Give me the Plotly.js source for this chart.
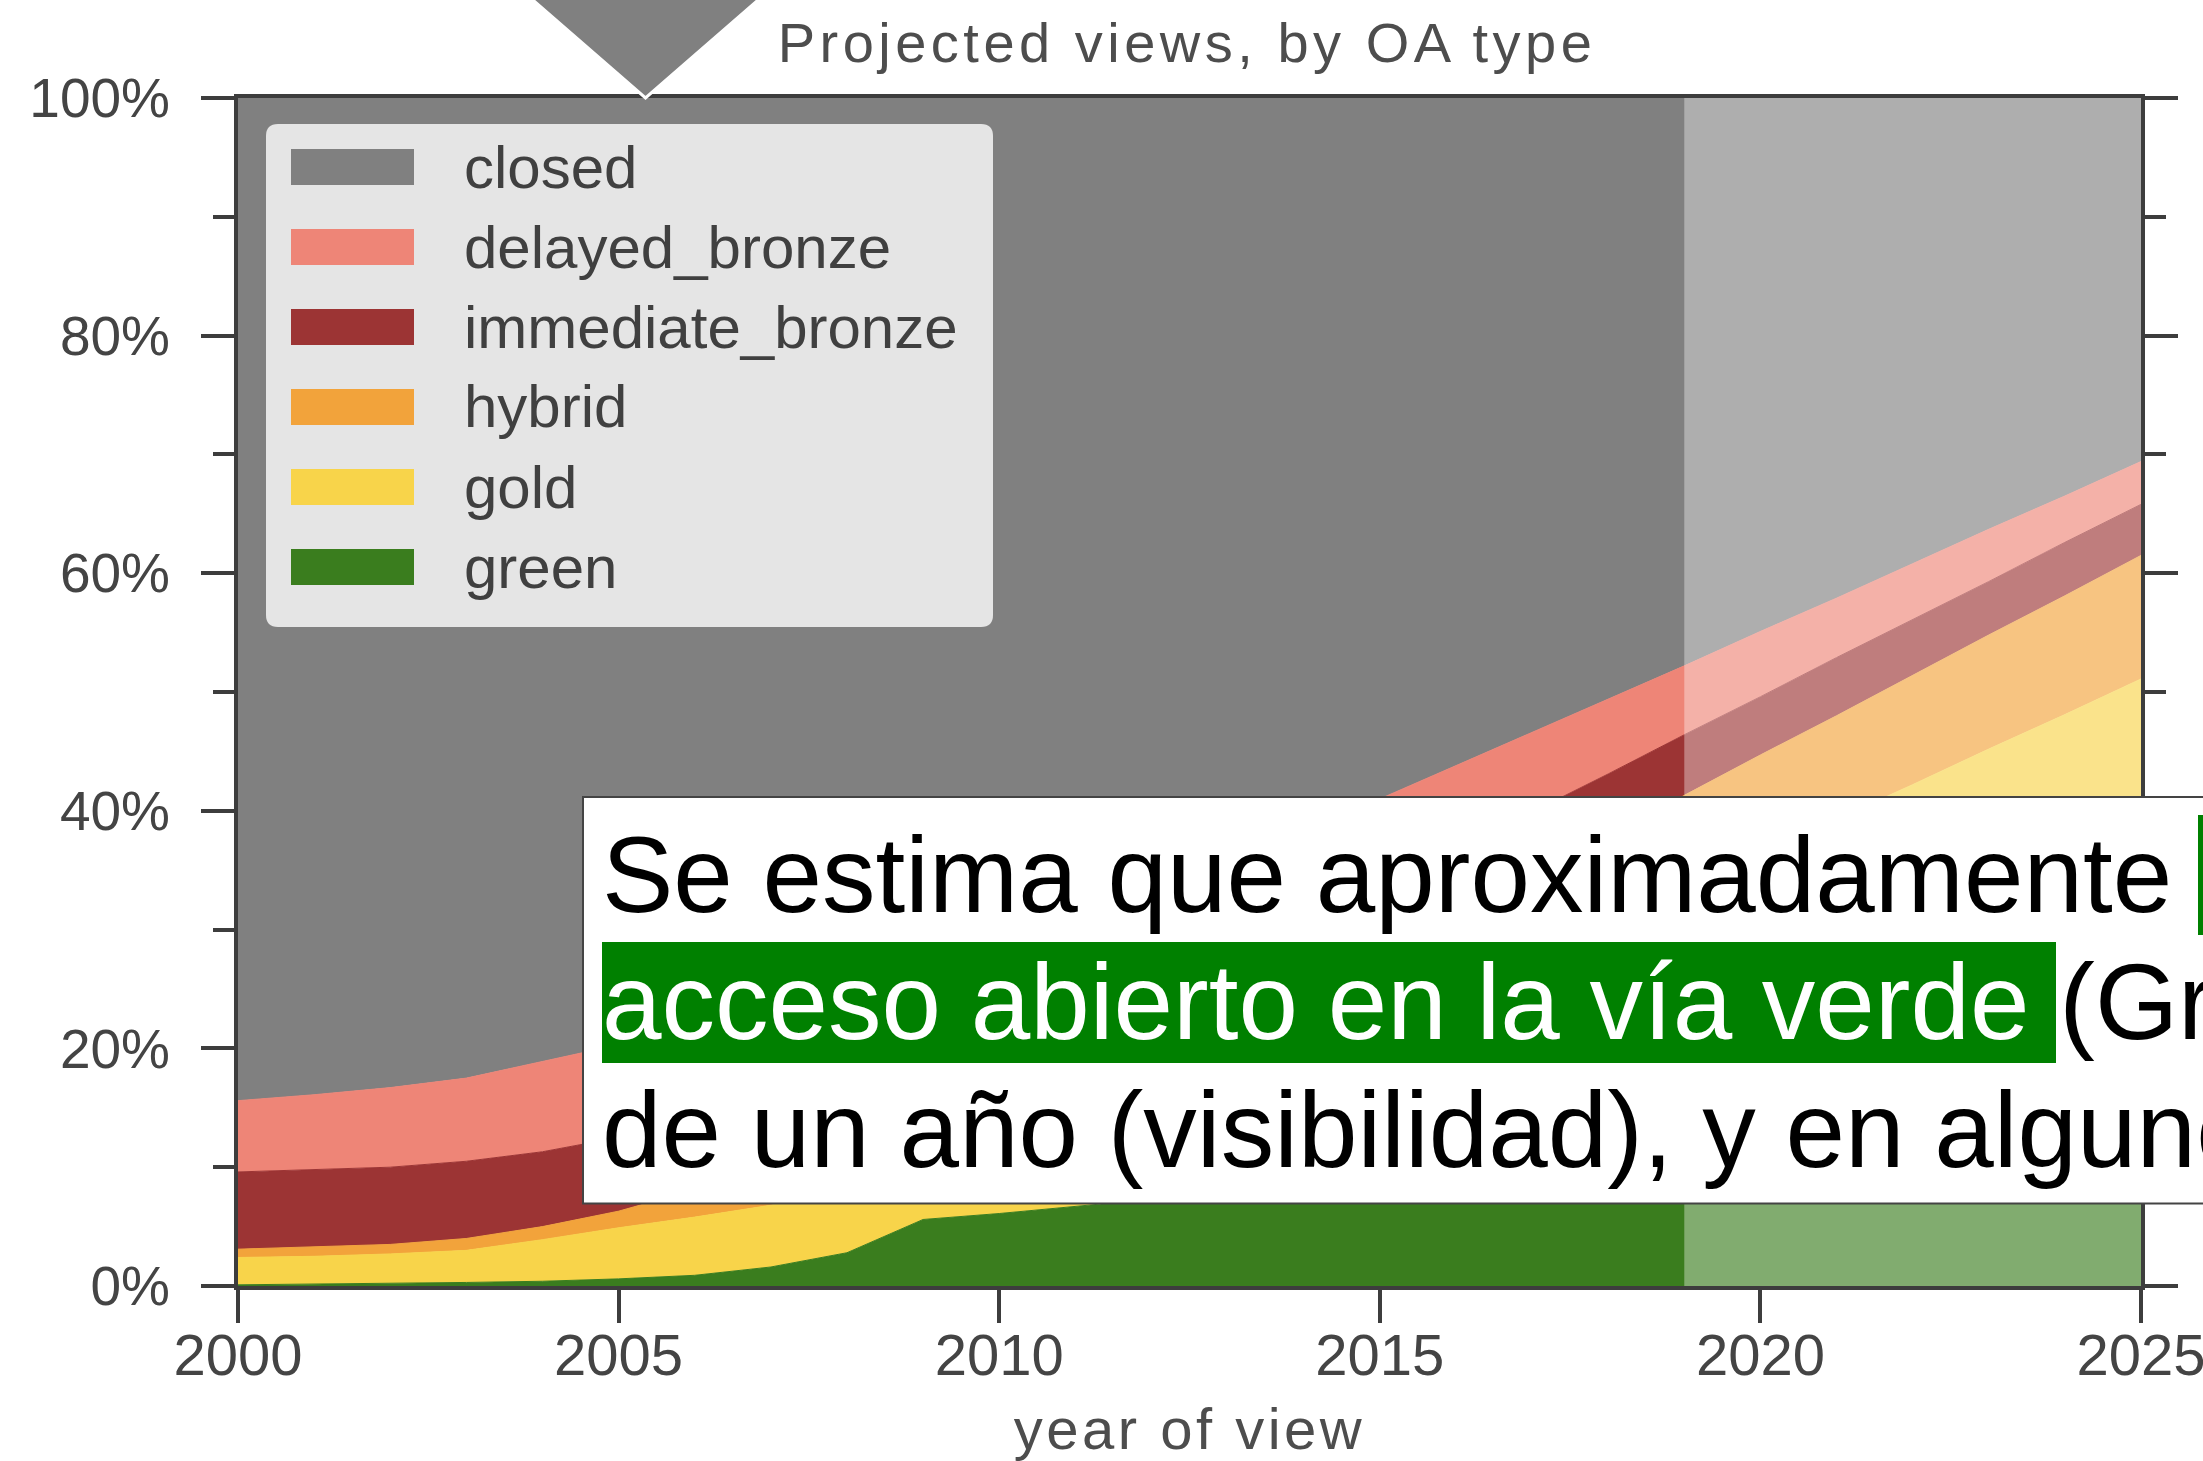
<!DOCTYPE html>
<html>
<head>
<meta charset="utf-8">
<script src="https://cdn.plot.ly/plotly-3.0.1.min.js"></script>
<style>
html,body{margin:0;padding:0;background:#ffffff;overflow:hidden}
#chart{width:2203px;height:1461px}
.gtitle{letter-spacing:4.5px}
.xtitle{letter-spacing:3.5px}
</style>
</head>
<body>
<div id="chart"></div>
<script>
// ---- data (share of views, %) ----
const years = [2000,2001,2002,2003,2004,2005,2006,2007,2008,2009,2010,2011,2012,2013,2014,2015,2016,2017,2018,2019,2020,2021,2022,2023,2024,2025];
const green = [0.1,0.15,0.2,0.3,0.4,0.6,0.9,1.6,2.8,5.6,6.1,6.7,7.3,7.9,8.5,9.2,9.9,10.7,11.5,12.3,13.2,14.1,15.0,15.9,16.8,17.7];
const gold = [2.3,2.35,2.5,2.7,3.5,4.3,4.9,5.2,5.5,5.0,5.9,7.2,8.5,10.0,11.6,13.3,15.1,17.0,19.0,21.1,23.2,25.2,27.2,29.3,31.3,33.4];
const hybrid = [0.7,0.8,0.8,1.0,1.1,1.4,2.3,3.4,4.0,3.9,4.3,4.5,4.8,5.1,5.4,5.7,6.2,6.7,7.3,7.9,8.3,8.7,9.2,9.6,10.0,10.4];
const immediateBronze = [6.5,6.5,6.5,6.5,6.3,6.2,5.9,5.5,5.4,5.5,5.7,5.9,6.0,6.0,6.0,5.9,5.7,5.5,5.3,5.1,4.9,4.9,4.7,4.5,4.5,4.3];
const delayedBronze = [6.0,6.3,6.7,7.0,7.6,7.8,7.7,7.6,7.3,6.8,6.7,6.4,6.3,6.5,6.7,6.9,6.9,6.7,6.3,5.8,5.5,5.0,4.7,4.4,3.9,3.6];
const closed = [84.4,83.9,83.3,82.5,81.1,79.7,78.3,76.7,75.0,73.2,71.3,69.3,67.1,64.5,61.8,59.0,56.2,53.4,50.6,47.8,44.9,42.1,39.2,36.3,33.5,30.6];

const seriesNames = ['green','gold','hybrid','immediate_bronze','delayed_bronze','closed'];
const seriesValues = [green, gold, hybrid, immediateBronze, delayedBronze, closed];
const seriesColors = ['#3a7d1e','#f8d44a','#f2a33b','#9c3434','#ee8577','#808080'];
const projectionStart = 2019;
const projectionEnd = 2025;
const xTickVals = [2000,2005,2010,2015,2020,2025];
const yTickVals = [0,20,40,60,80,100];
const yTickText = ['0%','20%','40%','60%','80%','100%'];

const chartTitle = 'Projected views, by OA type';
const xTitle = 'year of view';
const noteLine1 = 'Se estima que aproximadamente';
const noteLine2a = 'acceso abierto en la vía verde';
const noteLine2b = ' (Green OA)';
const noteLine3 = 'de un año (visibilidad), y en algunos casos';

// ---- layout geometry (pixels) ----
const W = 2203, H = 1461;
const PL = 238, PR = 2141, PT = 98, PB = 1286;
const px = p => (p - PL) / (PR - PL);
const py = p => (PB - p) / (PB - PT);
const FONT = '"Liberation Sans", Arial, sans-serif';
const axisColor = '#3d3d3d';

const traces = seriesNames.map((n, i) => ({
  type: 'scatter', mode: 'lines', x: years, y: seriesValues[i], name: n,
  stackgroup: 'one', line: {color: seriesColors[i], width: 1},
  fillcolor: seriesColors[i], showlegend: false, hoverinfo: 'skip'
}));

function roundedRect(x0, y0, x1, y1, r) {
  const P = (a, b) => px(a) + ',' + py(b);
  return 'M' + P(x0 + r, y0) + ' L' + P(x1 - r, y0) + ' Q' + P(x1, y0) + ' ' + P(x1, y0 + r) +
    ' L' + P(x1, y1 - r) + ' Q' + P(x1, y1) + ' ' + P(x1 - r, y1) +
    ' L' + P(x0 + r, y1) + ' Q' + P(x0, y1) + ' ' + P(x0, y1 - r) +
    ' L' + P(x0, y0 + r) + ' Q' + P(x0, y0) + ' ' + P(x0 + r, y0) + ' Z';
}

const shapes = [];
const annotations = [];

// projection period overlay
shapes.push({type: 'rect', xref: 'x', yref: 'paper', x0: projectionStart, x1: projectionEnd, y0: 0, y1: 1,
  fillcolor: 'rgba(255,255,255,0.36)', line: {width: 0}, layer: 'above'});

// legend
shapes.push({type: 'path', xref: 'paper', yref: 'paper', path: roundedRect(266, 124, 993, 627, 12),
  fillcolor: '#e5e5e5', line: {width: 0}, layer: 'above'});
for (let k = 0; k < seriesNames.length; k++) {
  const idx = seriesNames.length - 1 - k;
  const cy = 167 + 80 * k;
  shapes.push({type: 'rect', xref: 'paper', yref: 'paper', x0: px(291), x1: px(414), y0: py(cy + 18), y1: py(cy - 18),
    fillcolor: seriesColors[idx], line: {width: 0}, layer: 'above'});
  annotations.push({xref: 'paper', yref: 'paper', x: px(464), y: py(cy), xanchor: 'left', yanchor: 'middle',
    text: seriesNames[idx], showarrow: false, borderpad: 0, borderwidth: 0,
    font: {family: FONT, size: 60, color: '#404040'}});
}

// overlaid note box
shapes.push({type: 'rect', xref: 'paper', yref: 'paper', x0: px(583), x1: px(2260), y0: py(1203.5), y1: py(797),
  fillcolor: '#ffffff', line: {color: '#444444', width: 2}, layer: 'above'});
shapes.push({type: 'rect', xref: 'paper', yref: 'paper', x0: px(2198), x1: px(2260), y0: py(935), y1: py(815),
  fillcolor: '#008000', line: {width: 0}, layer: 'above'});
shapes.push({type: 'rect', xref: 'paper', yref: 'paper', x0: px(602), x1: px(2056), y0: py(1063), y1: py(942),
  fillcolor: '#008000', line: {width: 0}, layer: 'above'});
const noteFont = {family: FONT, size: 107, color: '#000000'};
annotations.push({xref: 'paper', yref: 'paper', x: px(602), y: py(874.6), xanchor: 'left', yanchor: 'middle',
  text: noteLine1, showarrow: false, borderpad: 0, borderwidth: 0, font: noteFont});
annotations.push({xref: 'paper', yref: 'paper', x: px(602), y: py(1002.2), xanchor: 'left', yanchor: 'middle',
  text: '<span style="color:#ffffff">' + noteLine2a + '</span>' + noteLine2b, showarrow: false, borderpad: 0, borderwidth: 0, font: noteFont});
annotations.push({xref: 'paper', yref: 'paper', x: px(602), y: py(1129.6), xanchor: 'left', yanchor: 'middle',
  text: noteLine3, showarrow: false, borderpad: 0, borderwidth: 0, font: noteFont});

// grey pointer triangle at the top
shapes.push({type: 'path', xref: 'paper', yref: 'paper',
  path: 'M' + px(526) + ',' + py(-6) + ' L' + px(765) + ',' + py(-6) + ' L' + px(645.5) + ',' + py(98) + ' Z',
  fillcolor: '#808080', line: {color: '#ffffff', width: 3}, layer: 'above'});

const layout = {
  width: W, height: H,
  margin: {l: PL, r: W - PR, t: PT, b: H - PB, pad: 0},
  paper_bgcolor: '#ffffff', plot_bgcolor: '#ffffff',
  font: {family: FONT, color: '#444444'},
  showlegend: false,
  title: {text: chartTitle, font: {family: FONT, size: 56, color: '#4d4d4d'},
    xref: 'container', yref: 'container', x: 1187 / W, xanchor: 'center', y: 1 - 42 / H, yanchor: 'middle'},
  xaxis: {
    range: [years[0], years[years.length - 1]], tickvals: xTickVals, ticks: 'outside', ticklen: 33, tickwidth: 4,
    tickcolor: axisColor, showline: true, linewidth: 4, linecolor: axisColor, mirror: true,
    showgrid: false, zeroline: false, ticklabelstandoff: -18, ticklabeloverflow: 'allow',
    tickfont: {family: FONT, size: 58, color: '#444444'},
    title: {text: xTitle, font: {family: FONT, size: 58, color: '#4d4d4d'}, standoff: 32}
  },
  yaxis: {
    range: [0, 100], tickvals: yTickVals, ticktext: yTickText, ticks: 'outside', ticklen: 33, tickwidth: 4,
    tickcolor: axisColor, showline: true, linewidth: 4, linecolor: axisColor, mirror: 'ticks',
    showgrid: false, zeroline: false, ticklabelstandoff: 20,
    minor: {dtick: 10, ticks: 'outside', ticklen: 21, tickwidth: 4, tickcolor: axisColor, showgrid: false},
    tickfont: {family: FONT, size: 55, color: '#444444'}
  },
  shapes: shapes,
  annotations: annotations
};

Plotly.newPlot('chart', traces, layout, {displayModeBar: false, staticPlot: true});
</script>
</body>
</html>
